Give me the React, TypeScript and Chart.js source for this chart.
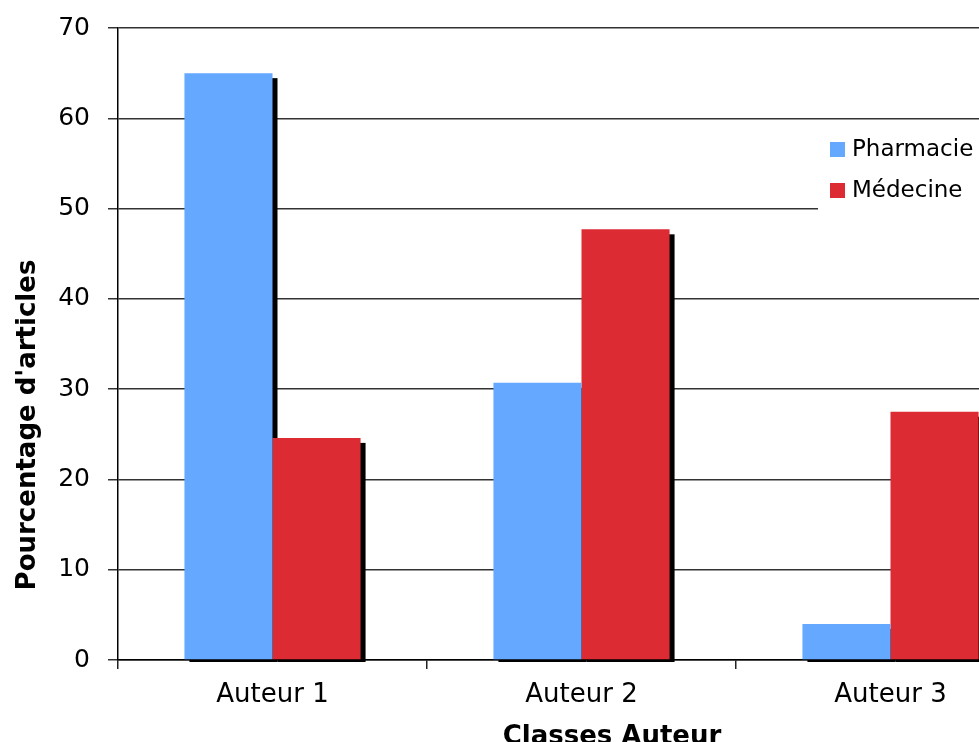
import { useEffect, useRef } from 'react';
import { Chart, registerables } from 'chart.js';

Chart.register(...registerables);

const FONT = '"DejaVu Sans", Verdana, sans-serif';

const categories = ['Auteur 1', 'Auteur 2', 'Auteur 3'];
const seriesNames = ['Pharmacie', 'Médecine'];
const pharmacie = [65, 30.7, 4];
const medecine = [24.6, 47.7, 27.5];
const yMin = 0;
const yMax = 70;
const yStep = 10;
const yTitle = "Pourcentage d'articles";
const xTitle = 'Classes Auteur';
const colors = ['#64A8FF', '#DC2B33'];

export default function App() {
  const ref = useRef<HTMLCanvasElement>(null);

  useEffect(() => {
    if (!ref.current) return;

    const shadowPlugin = {
      id: 'barShadow',
      beforeDatasetsDraw(chart: any) {
        const ctx = chart.ctx;
        const area = chart.chartArea;
        ctx.save();
        ctx.beginPath();
        ctx.rect(area.left, 0, chart.width, area.bottom + 2);
        ctx.clip();
        ctx.fillStyle = '#000';
        chart.data.datasets.forEach((_: any, i: number) => {
          const meta = chart.getDatasetMeta(i);
          meta.data.forEach((bar: any) => {
            const p = bar.getProps(['x', 'y', 'base', 'width'], true);
            const left = p.x - p.width / 2;
            ctx.fillRect(left + 5, p.y + 5, p.width, p.base - p.y);
          });
        });
        ctx.restore();
      },
    };

    const decorPlugin = {
      id: 'decor',
      afterDraw(chart: any) {
        const ctx = chart.ctx;
        ctx.save();
        // legend
        ctx.fillStyle = '#fff';
        ctx.fillRect(818, 124, 260, 92);
        ctx.font = `23px ${FONT}`;
        ctx.textBaseline = 'middle';
        ctx.textAlign = 'left';
        chart.data.datasets.forEach((ds: any, i: number) => {
          const y = 149 + i * 41;
          ctx.fillStyle = ds.backgroundColor;
          ctx.fillRect(830, y - 7, 15, 15);
          ctx.fillStyle = '#000';
          ctx.fillText(ds.label, 852, y + 1);
        });
        // axis titles
        ctx.font = `bold 26px ${FONT}`;
        ctx.fillStyle = '#000';
        ctx.textAlign = 'center';
        ctx.textBaseline = 'alphabetic';
        ctx.fillText(xTitle, 612, 744);
        ctx.save();
        ctx.translate(35, 425);
        ctx.rotate(-Math.PI / 2);
        ctx.textBaseline = 'alphabetic';
        ctx.fillText(yTitle, 0, 0);
        ctx.restore();
        ctx.restore();
      },
    };

    const chart = new Chart(ref.current, {
      type: 'bar',
      data: {
        labels: categories,
        datasets: [
          {
            label: seriesNames[0],
            data: pharmacie,
            backgroundColor: colors[0],
            borderWidth: 0,
            categoryPercentage: 0.57,
            barPercentage: 1.0,
          },
          {
            label: seriesNames[1],
            data: medecine,
            backgroundColor: colors[1],
            borderWidth: 0,
            categoryPercentage: 0.57,
            barPercentage: 1.0,
          },
        ],
      },
      options: {
        responsive: false,
        animation: false,
        layout: { padding: { top: 28, right: 5, left: 0, bottom: 0 } },
        plugins: {
          legend: { display: false },
          tooltip: { enabled: false },
        },
        scales: {
          x: {
            offset: true,
            grid: {
              display: true,
              drawOnChartArea: false,
              drawTicks: true,
              tickLength: 9,
              offset: true,
              color: '#222',
              lineWidth: 1.5,
            },
            border: { display: true, color: '#000', width: 1.5 },
            ticks: {
              font: { family: FONT, size: 26 },
              color: '#000',
              padding: 11,
              maxRotation: 0,
            },
            afterFit: (s: any) => {
              s.height = 82;
              s.paddingLeft = 0;
              s.paddingRight = 0;
            },
          },
          y: {
            min: yMin,
            max: yMax,
            ticks: {
              stepSize: yStep,
              font: { family: FONT, size: 25 },
              color: '#000',
              padding: 18,
            },
            grid: {
              color: '#333',
              lineWidth: 1.5,
              tickLength: 10,
              drawTicks: true,
            },
            border: { display: true, color: '#000', width: 1.5 },
            afterFit: (s: any) => {
              s.width = 118;
              s.paddingTop = 0;
              s.paddingBottom = 0;
            },
          },
        },
      },
      plugins: [shadowPlugin, decorPlugin],
    });

    return () => chart.destroy();
  }, []);

  return (
    <div
      style={{
        position: 'fixed',
        left: 0,
        top: 0,
        width: 979,
        height: 742,
        overflow: 'hidden',
        background: '#fff',
      }}
    >
      <canvas
        ref={ref}
        width={1050}
        height={742}
        style={{ display: 'block', width: 1050, height: 742 }}
      />
    </div>
  );
}
